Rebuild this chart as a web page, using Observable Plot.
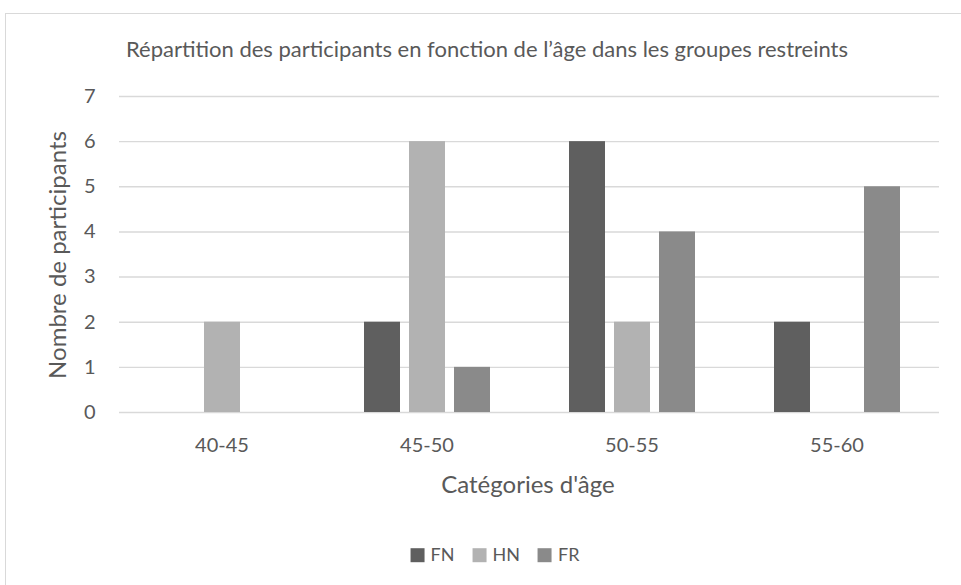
<!DOCTYPE html>
<html>
<head>
<meta charset="utf-8">
<script src="https://cdn.jsdelivr.net/npm/d3@7"></script>
<script src="https://cdn.jsdelivr.net/npm/@observablehq/plot@0.6"></script>
<style>
  html, body { margin: 0; padding: 0; background: #fff; }
  body { width: 961px; height: 585px; position: relative; overflow: hidden; font-family: Lato, sans-serif; color: #595959; }
  #frame { position: absolute; left: 5px; top: 13px; width: 1000px; height: 700px; border: 1px solid #d9d9d9; box-sizing: border-box; }
  #chart { position: absolute; left: 0; top: 0; }
  .txt { position: absolute; white-space: nowrap; transform: translate(-50%, -50%); line-height: 1.2; }
  #title { left: 487px; top: 49px; font-size: 22px; }
  #xtitle { left: 528px; top: 484px; font-size: 24px; }
  #ytitle { left: 57px; top: 255px; font-size: 24px; transform: translate(-50%, -50%) rotate(-90deg); }
  #legend { left: 495px; top: 555px; font-size: 18px; display: flex; align-items: center; }
  .item { display: flex; align-items: center; margin-right: 18px; }
  .item:last-child { margin-right: 0; }
  .sw { width: 14px; height: 14px; margin-right: 6px; }
</style>
</head>
<body>
<div id="frame"></div>
<div id="chart"></div>
<div id="title" class="txt">Répartition des participants en fonction de l’âge dans les groupes restreints</div>
<div id="xtitle" class="txt">Catégories d'âge</div>
<div id="ytitle" class="txt">Nombre de participants</div>
<div id="legend" class="txt"></div>
<script>
const categories = ["40-45", "45-50", "50-55", "55-60"];
const series = ["FN", "HN", "FR"];
const FN = [0, 2, 6, 2];
const HN = [2, 6, 2, 0];
const FR = [0, 1, 4, 5];
const colors = ["#5f5f5f", "#b2b2b2", "#8a8a8a"];
const yTicks = [0, 1, 2, 3, 4, 5, 6, 7];

const values = {FN, HN, FR};
const data = categories.flatMap((c, i) => series.map(s => ({cat: c, series: s, value: values[s][i]})));

const chart = Plot.plot({
  width: 961,
  height: 585,
  marginTop: 96,
  marginBottom: 173,
  marginLeft: 117,
  marginRight: 21,
  style: {fontFamily: "Lato, sans-serif", color: "#595959", background: "transparent"},
  fx: {domain: categories, padding: 0, label: null},
  x: {domain: series, paddingInner: 0.21, paddingOuter: 0.851, axis: null},
  y: {domain: [0, 7], label: null},
  color: {domain: series, range: colors},
  marks: [
    Plot.gridY(yTicks, {stroke: "#d9d9d9", strokeOpacity: 1, strokeWidth: 1.4}),
    Plot.axisY(yTicks, {tickSize: 0, tickPadding: 24, fontSize: 20, label: null}),
    Plot.axisFx({anchor: "bottom", tickSize: 0, tickPadding: 25, fontSize: 20, label: null}),
    Plot.barY(data.filter(d => d.value > 0), {fx: "cat", x: "series", y: "value", fill: "series"})
  ]
});
document.getElementById("chart").appendChild(chart);

const legend = document.getElementById("legend");
series.forEach((s, i) => {
  const item = document.createElement("div");
  item.className = "item";
  const sw = document.createElement("div");
  sw.className = "sw";
  sw.style.background = colors[i];
  const lab = document.createElement("span");
  lab.textContent = s;
  item.appendChild(sw);
  item.appendChild(lab);
  legend.appendChild(item);
});
</script>
</body>
</html>
